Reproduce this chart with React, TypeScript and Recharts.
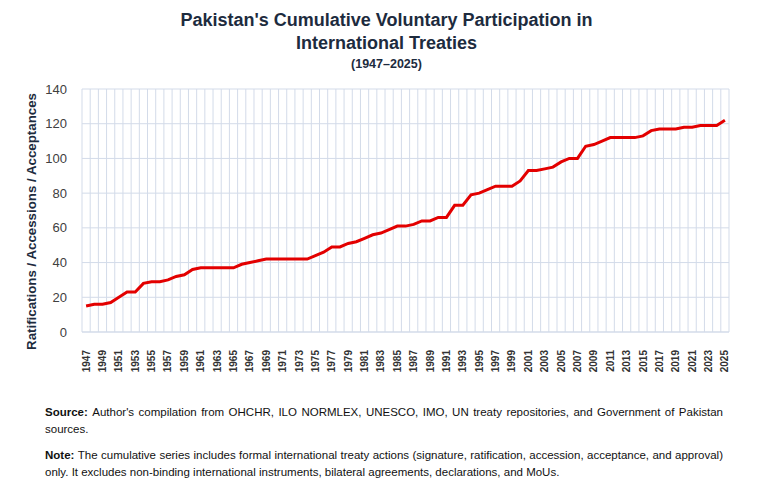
import React from 'react'
import { LineChart, Line, XAxis, YAxis, CartesianGrid } from 'recharts'

const years: number[] = [
  1947, 1948, 1949, 1950, 1951, 1952, 1953, 1954, 1955, 1956, 1957, 1958, 1959, 1960,
  1961, 1962, 1963, 1964, 1965, 1966, 1967, 1968, 1969, 1970, 1971, 1972, 1973, 1974,
  1975, 1976, 1977, 1978, 1979, 1980, 1981, 1982, 1983, 1984, 1985, 1986, 1987, 1988,
  1989, 1990, 1991, 1992, 1993, 1994, 1995, 1996, 1997, 1998, 1999, 2000, 2001, 2002,
  2003, 2004, 2005, 2006, 2007, 2008, 2009, 2010, 2011, 2012, 2013, 2014, 2015, 2016,
  2017, 2018, 2019, 2020, 2021, 2022, 2023, 2024, 2025,
]

const cumulative: number[] = [
  15, 16, 16, 17, 20, 23, 23, 28, 29, 29, 30, 32, 33, 36,
  37, 37, 37, 37, 37, 39, 40, 41, 42, 42, 42, 42, 42, 42,
  44, 46, 49, 49, 51, 52, 54, 56, 57, 59, 61, 61, 62, 64,
  64, 66, 66, 73, 73, 79, 80, 82, 84, 84, 84, 87, 93, 93,
  94, 95, 98, 100, 100, 107, 108, 110, 112, 112, 112, 112, 113, 116,
  117, 117, 117, 118, 118, 119, 119, 119, 122,
]

const xTicks: number[] = years.filter((y) => y % 2 === 1)
const yTicks: number[] = [0, 20, 40, 60, 80, 100, 120, 140]

const data = years.map((year, i) => ({ year, value: cumulative[i] }))

const GRID = '#d3dbe9'
const NAVY = '#1d2b3e'
const FONT = 'Liberation Sans, Arial, sans-serif'

function YearTick(props: any) {
  const { x, y, payload } = props
  return (
    <text
      x={x}
      y={y + 10}
      transform={`rotate(-90, ${x}, ${y + 10})`}
      textAnchor="end"
      dominantBaseline="central"
      fontSize={10}
      fontWeight={700}
      fill="#333"
      fontFamily={FONT}
    >
      {payload.value}
    </text>
  )
}

function YLabel(props: any) {
  const { viewBox } = props
  const cy = viewBox.y + viewBox.height / 2 + 11
  return (
    <text
      x={31}
      y={cy}
      transform={`rotate(-90, 31, ${cy})`}
      textAnchor="middle"
      dominantBaseline="central"
      fontSize={13.3}
      fontWeight={700}
      fill={NAVY}
      fontFamily={FONT}
    >
      Ratifications / Accessions / Acceptances
    </text>
  )
}

export default function App() {
  const boundaries = [...years.map((y) => y - 0.5), 2025.5]

  return (
    <div
      style={{
        position: 'absolute',
        left: 0,
        top: 0,
        width: 773,
        height: 502,
        background: '#fff',
        fontFamily: FONT,
      }}
    >
      <div style={{ position: 'absolute', top: 9, width: 773, textAlign: 'center', color: NAVY, fontWeight: 700 }}>
        <div style={{ fontSize: 18, lineHeight: '23px' }}>Pakistan's Cumulative Voluntary Participation in</div>
        <div style={{ fontSize: 18, lineHeight: '23px' }}>International Treaties</div>
        <div style={{ fontSize: 12.5, lineHeight: '18px' }}>(1947–2025)</div>
      </div>

      <div style={{ position: 'absolute', top: 0, left: 0 }}>
        <LineChart width={773} height={380} data={data} margin={{ top: 89, right: 44, bottom: 0, left: 0 }}>
          <CartesianGrid
            stroke={GRID}
            strokeWidth={1}
            verticalCoordinatesGenerator={({ offset }: any) =>
              boundaries.map((b) => offset.left + ((b - 1946.5) / 79) * offset.width)
            }
          />
          <XAxis
            dataKey="year"
            type="number"
            domain={[1946.5, 2025.5]}
            ticks={xTicks}
            interval={0}
            tick={<YearTick />}
            tickLine={false}
            axisLine={{ stroke: GRID }}
            height={48}
          />
          <YAxis
            domain={[0, 140]}
            ticks={yTicks}
            tickLine={false}
            axisLine={false}
            tickSize={0}
            tickMargin={15}
            width={82}
            tick={{ fontSize: 13, fill: '#404040', fontFamily: FONT }}
            label={<YLabel />}
          />
          <Line
            type="linear"
            dataKey="value"
            stroke="#e30000"
            strokeWidth={3}
            dot={false}
            isAnimationActive={false}
          />
        </LineChart>
      </div>

      <div
        style={{
          position: 'absolute',
          left: 45,
          width: 678,
          top: 404,
          fontSize: 11.5,
          lineHeight: '17px',
          textAlign: 'justify',
          color: '#111',
          fontFamily: FONT,
        }}
      >
        <p style={{ margin: 0 }}>
          <b>Source: </b>Author's compilation from OHCHR, ILO NORMLEX, UNESCO, IMO, UN treaty repositories, and
          Government of Pakistan sources.
        </p>
        <p style={{ margin: '9px 0 0 0' }}>
          <b>Note: </b>The cumulative series includes formal international treaty actions (signature, ratification,
          accession, acceptance, and approval) only. It excludes non-binding international instruments, bilateral
          agreements, declarations, and MoUs.
        </p>
      </div>
    </div>
  )
}
